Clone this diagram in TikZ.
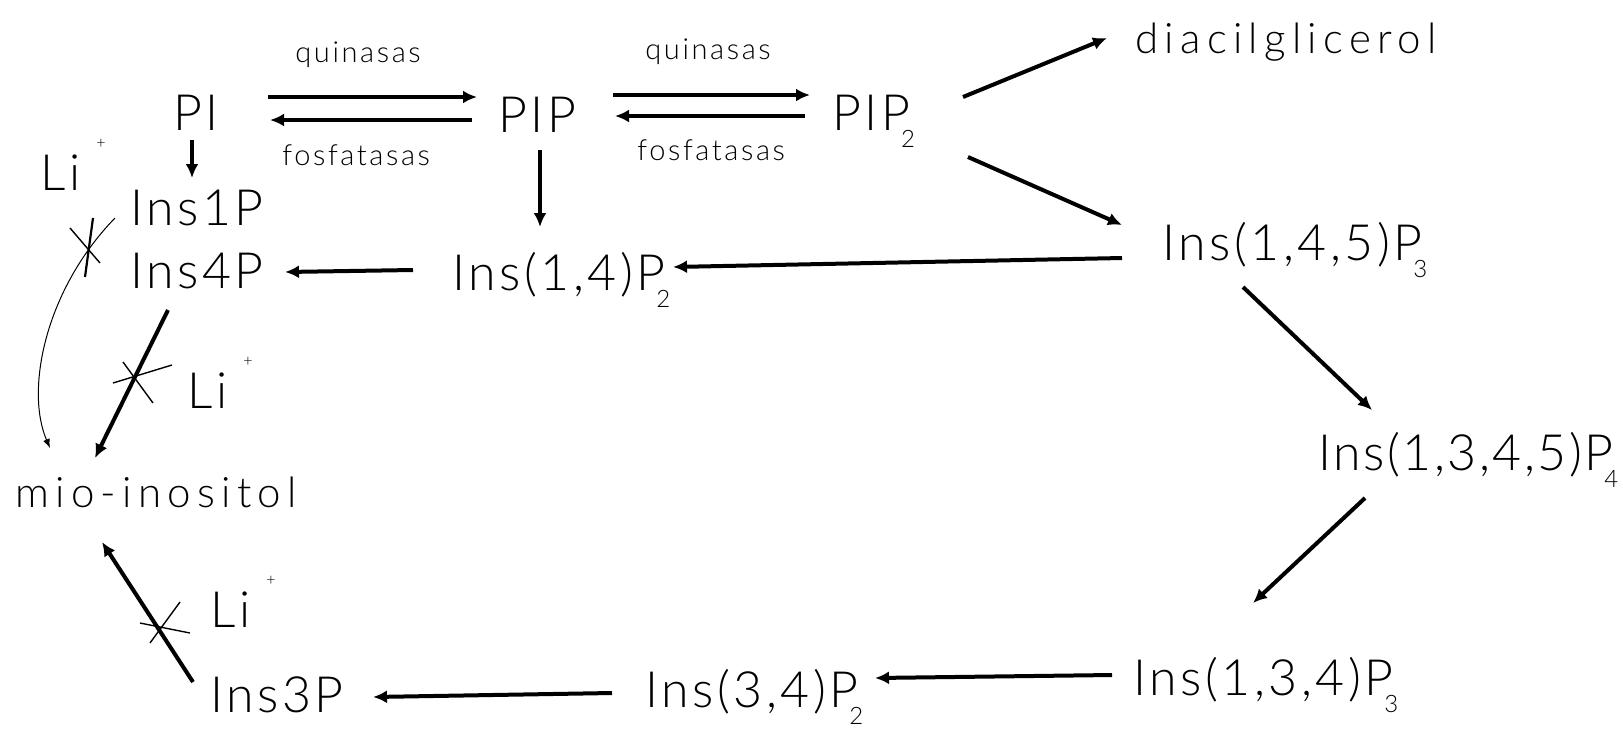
\documentclass[tikz,border=0pt]{standalone}
\usepackage{fontspec}
\setmainfont{Lato}[UprightFont={* Light}]
\usetikzlibrary{arrows.meta}
\newcommand\subP[1]{P\kern-4.5pt\raisebox{-8.6pt}{\fontsize{12}{12}\selectfont #1}}
\newcommand\liplus{Li\hspace{8pt}\raisebox{21pt}{\fontsize{8}{8}\selectfont +}}
\tikzset{
  lbl/.style={inner sep=0pt, anchor=base west},
  big/.style={lbl, font=\fontsize{25}{25}\selectfont\addfontfeature{LetterSpace=7}},
  mid/.style={lbl, font=\fontsize{21}{21}\selectfont\addfontfeature{LetterSpace=15}},
  enz/.style={lbl, font=\fontsize{14.5}{14.5}\selectfont\addfontfeature{LetterSpace=9}},
  arr/.style={line width=2pt, -{Latex[length=7pt,width=6.5pt]}},
  thinarr/.style={line width=0.5pt, -{Latex[length=4.5pt,width=3.5pt]}},
  crossln/.style={line width=0.7pt},
}
\begin{document}
\begin{tikzpicture}[x=0.5pt,y=-0.5pt]
\useasboundingbox (0,0) rectangle (1623,730);
% labels
\node[big] (PI)   at (173,130) {PI};
\node[big] (PIP)  at (498,132) {PIP};
\node[big] (PIP2) at (832,130) {PI\subP{2}};
\node[mid] (dag)  at (1135,53) {diacilglicerol};
\node[enz] (q1)   at (295,62) {quinasas};
\node[enz] (q2)   at (645,59) {quinasas};
\node[enz] (f1)   at (282,165) {fosfatasas};
\node[enz] (f2)   at (637,160) {fosfatasas};
\node[big] (li1)  at (40,190) {\liplus};
\node[big] (i1p)  at (130,225) {Ins1P};
\node[big] (i4p)  at (130,288) {Ins4P};
\node[big] (i14)  at (452,290) {Ins(1,4)\subP{2}};
\node[big] (i145) at (1162,260) {Ins(1,4,5)\subP{3}};
\node[big, font=\fontsize{25}{25}\selectfont\addfontfeature{LetterSpace=5}] (i1345) at (1318,470) {Ins(1,3,4,5)\subP{4}};
\node[big] (li2)  at (187,408) {\liplus};
\node[mid] (mio)  at (15,507) {mio-inositol};
\node[big] (li3)  at (210,627) {\liplus};
\node[big] (i3p)  at (210,712) {Ins3P};
\node[big] (i34)  at (645,707) {Ins(3,4)\subP{2}};
\node[big] (i134) at (1133,695) {Ins(1,3,4)\subP{3}};
% connector end points
\coordinate (a1s) at (268,97);   \coordinate (a1e) at (477,97);
\coordinate (a2s) at (472,120);  \coordinate (a2e) at (270,120);
\coordinate (a3s) at (613,95);   \coordinate (a3e) at (810,95);
\coordinate (a4s) at (805,116);  \coordinate (a4e) at (615,116);
\coordinate (a5s) at (192,140);  \coordinate (a5e) at (192,178);
\coordinate (a6s) at (540,150);  \coordinate (a6e) at (540,227);
\coordinate (a7s) at (963,97);   \coordinate (a7e) at (1107,38);
\coordinate (a8s) at (968,157);  \coordinate (a8e) at (1122,225);
\coordinate (a9s) at (1122,258); \coordinate (a9e) at (673,267);
\coordinate (a10s) at (413,270); \coordinate (a10e) at (285,272);
\coordinate (a11s) at (1243,287);\coordinate (a11e) at (1372,410);
\coordinate (a12s) at (1365,498);\coordinate (a12e) at (1253,603);
\coordinate (a13s) at (1112,675);\coordinate (a13e) at (875,678);
\coordinate (a14s) at (612,693); \coordinate (a14e) at (373,697);
\coordinate (a15s) at (193,682); \coordinate (a15e) at (102,542);
\coordinate (a16s) at (168,310); \coordinate (a16e) at (95,458);
\coordinate (a17s) at (115,218); \coordinate (a17e) at (50,448);
% arrows
\draw[arr] (a1s) -- (a1e);
\draw[arr] (a2s) -- (a2e);
\draw[arr] (a3s) -- (a3e);
\draw[arr] (a4s) -- (a4e);
\draw[arr] (a5s) -- (a5e);
\draw[arr] (a6s) -- (a6e);
\draw[arr] (a7s) -- (a7e);
\draw[arr] (a8s) -- (a8e);
\draw[arr] (a9s) -- (a9e);
\draw[arr] (a10s) -- (a10e);
\draw[arr] (a11s) -- (a11e);
\draw[arr] (a12s) -- (a12e);
\draw[arr] (a13s) -- (a13e);
\draw[arr] (a14s) -- (a14e);
\draw[arr] (a15s) -- (a15e);
\draw[arr] (a16s) -- (a16e);
\draw[thinarr] (a17s) .. controls (45,290) and (25,390) .. (a17e);
% lithium blocks
\coordinate (c1a) at (70,228);  \coordinate (c1b) at (100,263);
\coordinate (c1c) at (93,218);  \coordinate (c1d) at (85,277);
\coordinate (c2a) at (113,383); \coordinate (c2b) at (172,365);
\coordinate (c2c) at (123,362); \coordinate (c2d) at (153,403);
\coordinate (c3a) at (140,623); \coordinate (c3b) at (190,633);
\coordinate (c3c) at (150,643); \coordinate (c3d) at (180,602);
\draw[crossln] (c1a) -- (c1b);
\draw[crossln, line width=1.1pt] (c1c) -- (c1d);
\draw[crossln] (c2a) -- (c2b);
\draw[crossln] (c2c) -- (c2d);
\draw[crossln] (c3a) -- (c3b);
\draw[crossln] (c3c) -- (c3d);
\end{tikzpicture}
\end{document}
